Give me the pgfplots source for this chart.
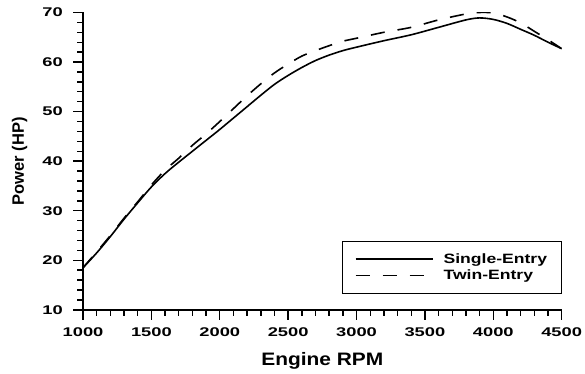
\documentclass[border=0pt]{standalone}
\usepackage{fontspec}
\setmainfont{Liberation Sans}
\newfontfamily\tickfont[FakeStretch=1.45]{Liberation Sans}
\newfontfamily\xlabfont[FakeStretch=1.16]{Liberation Sans}
\newfontfamily\legfont[FakeStretch=1.3]{Liberation Sans}
\usepackage{pgfplots}
\pgfplotsset{compat=1.18}
\begin{document}
\begin{tikzpicture}
\begin{axis}[
  scale only axis, width=478pt, height=297pt,
  xmin=1000, xmax=4500, ymin=10, ymax=70,
  axis x line*=bottom, axis y line*=left,
  axis line style={line width=1.8pt},
  xtick={1000,1500,...,4500}, ytick={10,20,...,70},
  minor x tick num=4, minor y tick num=4,
  tick align=inside,
  major tick length=-10pt, minor tick length=-6pt,
  tick style={black, line width=1.4pt},
  scaled ticks=false,
  /pgf/number format/assume math mode=true,
  /pgf/number format/1000 sep={},
  tick label style={font=\tickfont\fontsize{12.6}{14}\selectfont\bfseries},
  xticklabel style={anchor=north, inner ysep=0pt, inner xsep=3pt, yshift=-18pt},
  yticklabel style={anchor=east, inner xsep=0pt, inner ysep=8pt, xshift=-20pt},
  xlabel={Engine RPM}, ylabel={Power (HP)},
  xlabel style={font=\xlabfont\fontsize{18}{20}\selectfont\bfseries, at={(axis description cs:0.5,0)}, anchor=base, yshift=-56pt},
  ylabel style={font=\fontsize{16.5}{18}\selectfont\bfseries, at={(axis description cs:-0.1234,0.5)}, anchor=base, inner ysep=12pt},
  legend style={at={(1,0.054)}, anchor=south east, draw=black, line width=1.1pt,
    font=\legfont\fontsize{13.5}{15}\selectfont\bfseries, inner xsep=12pt, inner ysep=10pt,
    row sep=1pt, column sep=8pt},
  legend cell align=left,
  legend image code/.code={\draw[#1, line width=1.8pt] (0pt,0pt) -- (77pt,0pt);},
]
\addplot[black, line width=1.6pt, smooth] coordinates {
(1000,18.5)(1100,21.5)(1200,24.8)(1300,28.3)(1400,31.6)(1500,34.8)(1600,37.5)(1700,39.8)(1800,42.0)(1900,44.2)(2000,46.4)(2100,48.7)(2200,51.0)(2300,53.3)(2400,55.5)(2500,57.3)(2600,58.9)(2700,60.3)(2800,61.4)(2900,62.3)(3000,63.0)(3200,64.3)(3400,65.5)(3600,67.0)(3800,68.5)(3900,68.9)(4000,68.6)(4100,67.8)(4200,66.6)(4300,65.4)(4400,64.0)(4500,62.7)};
\addlegendentry{Single-Entry}
\addplot[black, line width=1.6pt, dash pattern=on 14pt off 13pt, smooth] coordinates {
(1000,18.5)(1100,21.7)(1200,25.0)(1300,28.5)(1400,31.8)(1500,35.2)(1600,38.2)(1700,40.6)(1800,43.2)(1900,45.5)(2000,48.0)(2100,50.6)(2200,53.2)(2300,55.6)(2400,57.8)(2500,59.6)(2600,61.2)(2700,62.3)(2800,63.3)(2900,64.2)(3000,64.8)(3200,66.0)(3400,67.0)(3600,68.5)(3800,69.7)(3900,70.0)(4000,69.9)(4100,69.1)(4200,67.9)(4300,66.2)(4400,64.5)(4500,62.7)};
\addlegendentry{Twin-Entry}
\end{axis}
\end{tikzpicture}
\end{document}
